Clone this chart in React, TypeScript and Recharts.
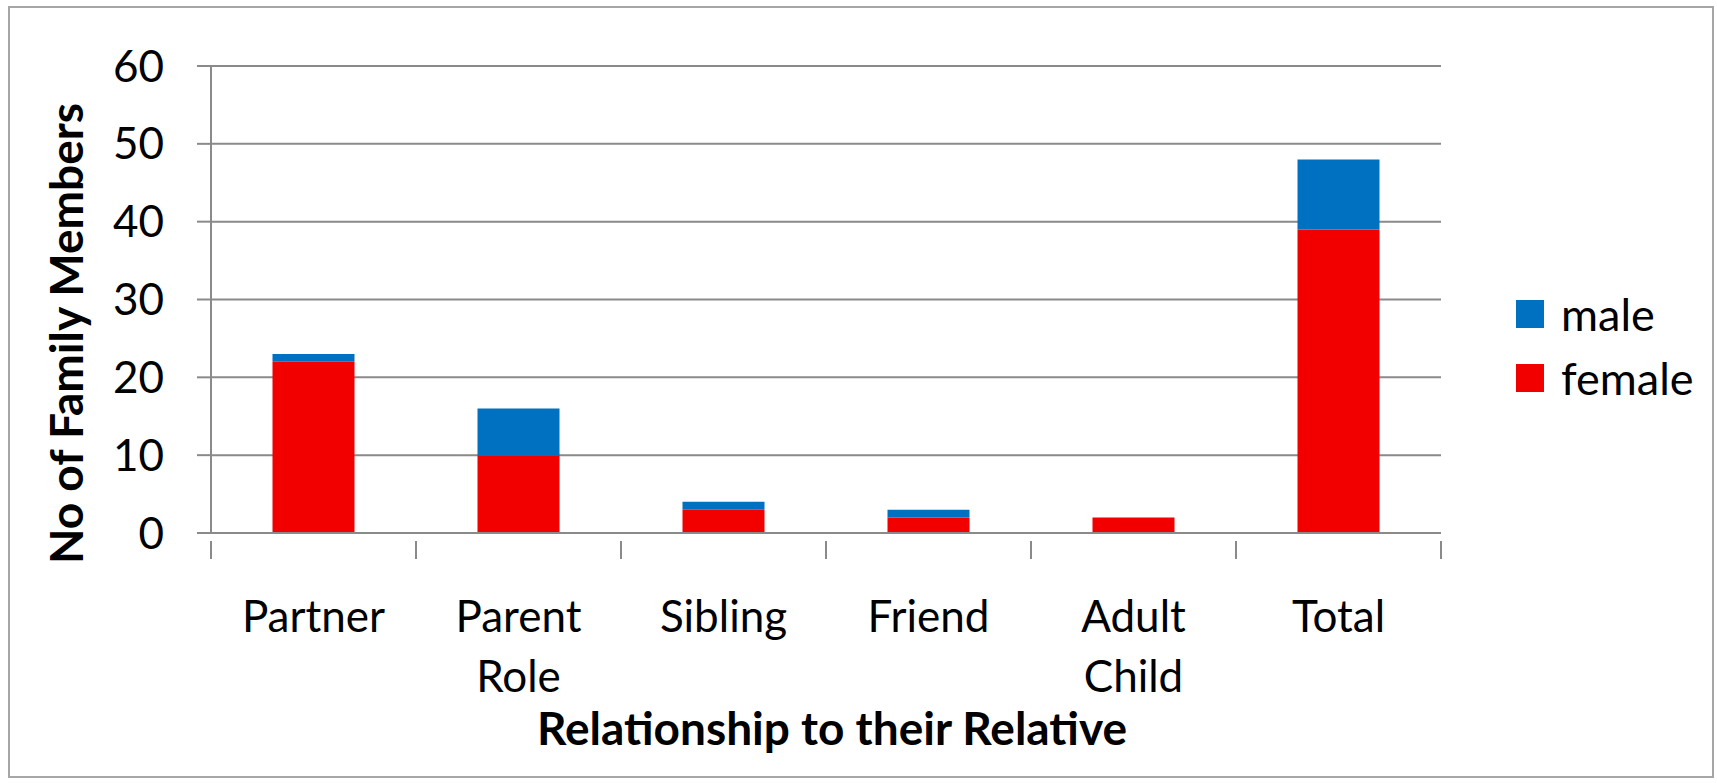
import React from "react";
import { BarChart, Bar, XAxis, YAxis, CartesianGrid, Legend } from "recharts";

const categories = ["Partner", "Parent Role", "Sibling", "Friend", "Adult Child", "Total"];
const femaleValues = [22, 10, 3, 2, 2, 39];
const maleValues = [1, 6, 1, 1, 0, 9];
const yTicks = [0, 10, 20, 30, 40, 50, 60];

const data = categories.map((name, i) => ({
  name,
  female: femaleValues[i],
  male: maleValues[i],
}));

const FONT = "Lato, 'Open Sans', sans-serif";
const GRID = "#8a8a8a";

// category labels wrap onto two lines, tick marks sit on the category boundaries
const CategoryTick = (props: any) => {
  const { x, y, payload, index, visibleTicksCount } = props;
  const half = payload.offset || 0;
  const words = String(payload.value).split(" ");
  return (
    <g>
      <line x1={x - half} y1={y} x2={x - half} y2={y + 18} stroke={GRID} strokeWidth={2} />
      {index === visibleTicksCount - 1 && (
        <line x1={x + half} y1={y} x2={x + half} y2={y + 18} stroke={GRID} strokeWidth={2} />
      )}
      <text x={x} y={y + 91} textAnchor="middle" fill="#000" fontSize={44} fontFamily={FONT}>
        {words.map((w, i) => (
          <tspan key={w} x={x} dy={i === 0 ? 0 : 60}>
            {w}
          </tspan>
        ))}
      </text>
    </g>
  );
};

const LegendBox = (props: any) => {
  const items = [...(props.payload || [])].reverse();
  return (
    <div style={{ fontFamily: FONT }}>
      {items.map((it: any) => (
        <div key={it.value} style={{ display: "flex", alignItems: "center", height: 64 }}>
          <div style={{ width: 28, height: 28, background: it.color, marginRight: 17 }} />
          <span style={{ fontSize: 45, color: "#000" }}>{it.value}</span>
        </div>
      ))}
    </div>
  );
};

const YTitle = (props: any) => {
  const { viewBox } = props;
  const cx = viewBox.x + 65;
  const cy = viewBox.y + viewBox.height / 2 + 34;
  return (
    <text
      x={cx}
      y={cy}
      transform={`rotate(-90, ${cx}, ${cy})`}
      textAnchor="middle"
      dominantBaseline="central"
      fontSize={46}
      fontWeight="bold"
      fontFamily={FONT}
      fill="#000"
    >
      No of Family Members
    </text>
  );
};

const XTitle = (props: any) => {
  const { viewBox } = props;
  const cx = viewBox.x + viewBox.width / 2 + 6;
  return (
    <text
      x={cx}
      y={viewBox.y + 212}
      textAnchor="middle"
      fontSize={46}
      fontWeight="bold"
      fontFamily={FONT}
      fill="#000"
    >
      Relationship to their Relative
    </text>
  );
};

export default function App() {
  return (
    <div style={{ position: "absolute", left: 0, top: 0, width: 1717, height: 783, background: "#fff" }}>
      <div
        style={{
          position: "absolute",
          left: 8,
          top: 6,
          width: 1706,
          height: 772,
          border: "2px solid #a6a6a6",
          boxSizing: "border-box",
        }}
      />
      <BarChart
        width={1717}
        height={783}
        data={data}
        margin={{ top: 66, right: 276, bottom: 0, left: 0 }}
        barCategoryGap="30%"
        style={{ position: "absolute", left: 0, top: 0 }}
      >
        <CartesianGrid vertical={false} stroke={GRID} strokeWidth={2} />
        <XAxis
          dataKey="name"
          height={250}
          interval={0}
          tickLine={false}
          axisLine={{ stroke: GRID, strokeWidth: 2 }}
          tick={<CategoryTick />}
          label={<XTitle />}
        />
        <YAxis
          width={211}
          domain={[0, 60]}
          ticks={yTicks}
          interval={0}
          tickSize={14}
          tickMargin={33}
          tickLine={{ stroke: GRID, strokeWidth: 2 }}
          axisLine={{ stroke: GRID, strokeWidth: 2 }}
          tick={{ fontSize: 44, fill: "#000", fontFamily: FONT }}
          label={<YTitle />}
        />
        <Legend
          layout="vertical"
          align="center"
          verticalAlign="middle"
          content={<LegendBox />}
          wrapperStyle={{ left: 1516, top: 282, width: 200 }}
        />
        <Bar dataKey="female" name="female" stackId="a" fill="#f20000" isAnimationActive={false} />
        <Bar dataKey="male" name="male" stackId="a" fill="#0070c0" isAnimationActive={false} />
      </BarChart>
    </div>
  );
}
